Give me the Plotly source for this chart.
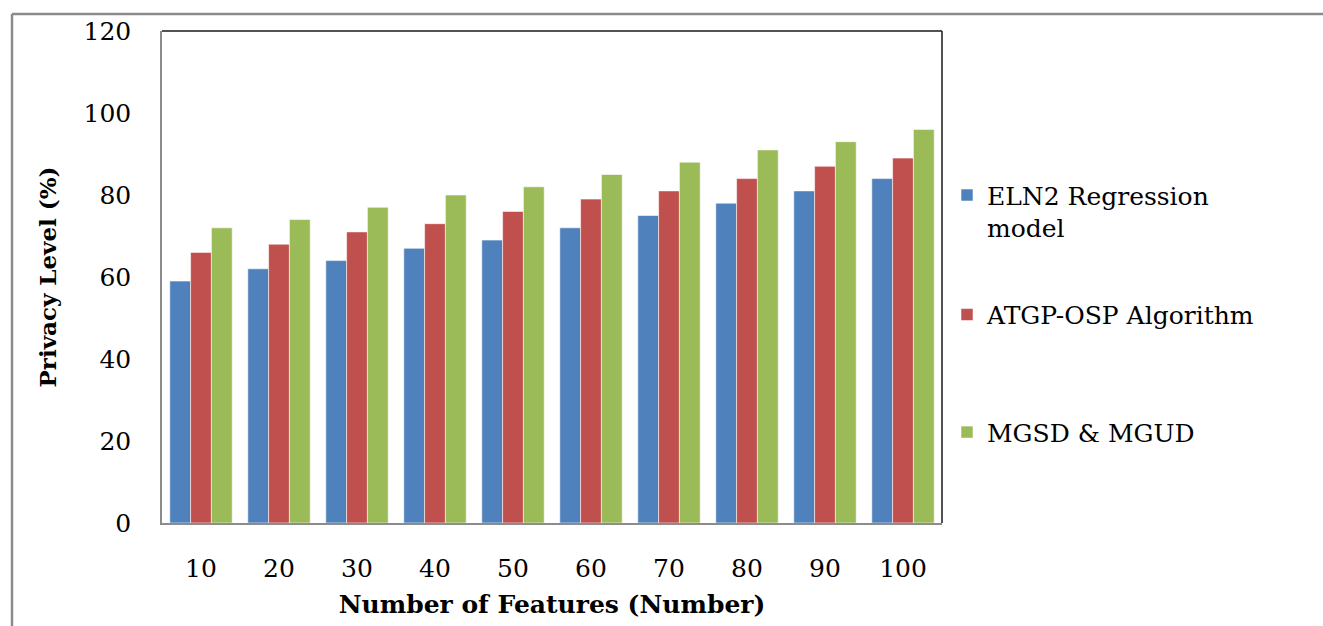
import plotly.graph_objects as go

# Number of features on the x-axis
features = ["10", "20", "30", "40", "50", "60", "70", "80", "90", "100"]

# Privacy level (%) per method
eln2_regression = [59, 62, 64, 67, 69, 72, 75, 78, 81, 84]
atgp_osp = [66, 68, 71, 73, 76, 79, 81, 84, 87, 89]
mgsd_mgud = [72, 74, 77, 80, 82, 85, 88, 91, 93, 96]

series_names = ["ELN2 Regression<br>model", "ATGP-OSP Algorithm", "MGSD & MGUD"]
series_values = [eln2_regression, atgp_osp, mgsd_mgud]
series_colors = ["#4F81BD", "#C0504D", "#9BBB59"]
legend_ids = ["legend", "legend2", "legend3"]

y_ticks = [0, 20, 40, 60, 80, 100, 120]

FONT = "DejaVu Serif"

fig = go.Figure()
for name, vals, color, lg in zip(series_names, series_values, series_colors, legend_ids):
    fig.add_trace(go.Bar(
        x=features, y=vals, name=name, legend=lg,
        marker=dict(color=color, line=dict(color="rgba(255,255,255,0.55)", width=1)),
    ))

W, H = 1323, 626
L, R, T, B = 162, 381, 31, 101
pw, ph = W - L - R, H - T - B


def px_x(x):
    return (x - L) / pw


def px_y(y):
    return (H - B - y) / ph


legend_common = dict(
    font=dict(family=FONT, size=25, color="#000"),
    bgcolor="rgba(0,0,0,0)", borderwidth=0,
    xanchor="left", yanchor="middle", valign="top",
    itemclick=False, itemdoubleclick=False,
)

fig.update_layout(
    width=W, height=H,
    margin=dict(l=L, r=R, t=T, b=B),
    paper_bgcolor="white", plot_bgcolor="white",
    barmode="group", bargap=0.2, bargroupgap=0,
    showlegend=True,
    legend=dict(x=px_x(947), y=px_y(212), **legend_common),
    legend2=dict(x=px_x(947), y=px_y(316), **legend_common),
    legend3=dict(x=px_x(947), y=px_y(434), **legend_common),
    xaxis=dict(
        type="category",
        showline=True, linecolor="#8c8c8c", linewidth=1.5,
        ticks="", showgrid=False,
        tickfont=dict(family=FONT, size=25, color="#000"),
        ticklabelstandoff=22,
        title=dict(text="<b>Number of Features (Number)</b>",
                   font=dict(family=FONT, size=25, color="#000"), standoff=14),
    ),
    yaxis=dict(
        range=[0, 120], tickvals=y_ticks,
        showline=True, linecolor="#8c8c8c", linewidth=1.5,
        ticks="", showgrid=False, zeroline=False,
        tickfont=dict(family=FONT, size=25, color="#000"),
        ticklabelstandoff=24,
        title=dict(text="<b>Privacy Level (%)</b>",
                   font=dict(family=FONT, size=23, color="#000"), standoff=20),
    ),
    shapes=[
        # dark top and right edges of the plotting frame
        dict(type="line", xref="paper", yref="paper", x0=0, x1=1, y0=1, y1=1,
             line=dict(color="#1a1a1a", width=1.5)),
        dict(type="line", xref="paper", yref="paper", x0=1, x1=1, y0=0, y1=1,
             line=dict(color="#1a1a1a", width=1.5)),
        # outer chart border (top and left)
        dict(type="line", xref="paper", yref="paper",
             x0=px_x(12), x1=px_x(W + 5), y0=px_y(14), y1=px_y(14),
             line=dict(color="#8a8a8a", width=2.5)),
        dict(type="line", xref="paper", yref="paper",
             x0=px_x(12), x1=px_x(12), y0=px_y(14), y1=px_y(H + 5),
             line=dict(color="#8a8a8a", width=2.5)),
    ],
)

fig.write_html("out.html")
